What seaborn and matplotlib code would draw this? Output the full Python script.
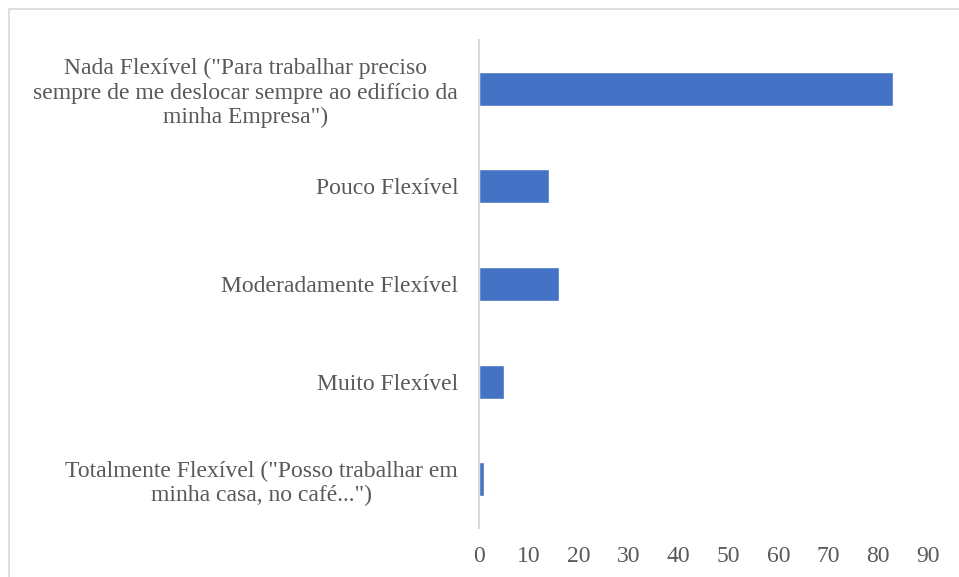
import matplotlib
matplotlib.use("Agg")
import matplotlib.pyplot as plt
import seaborn as sns
import pandas as pd
from matplotlib.patches import Rectangle

CATEGORIES = [
    'Nada Flexível ("Para trabalhar preciso\nsempre de me deslocar sempre ao edifício da\nminha Empresa")',
    'Pouco Flexível',
    'Moderadamente Flexível',
    'Muito Flexível',
    'Totalmente Flexível ("Posso trabalhar em\nminha casa, no café...")',
]
VALUES = [83, 14, 16, 5, 1]
XTICKS = [0, 10, 20, 30, 40, 50, 60, 70, 80, 90]

BAR_COLOR = "#4472C4"
TEXT_COLOR = "#595959"
LINE_COLOR = "#D9D9D9"

sns.set_theme(style="white")
plt.rcParams['font.family'] = ['Liberation Serif', 'DejaVu Serif']

df = pd.DataFrame({"cat": CATEGORIES, "val": VALUES})

fig = plt.figure(figsize=(9.59, 5.77), dpi=100)
ax = fig.add_axes([479 / 959, 1 - 528 / 577, (928 - 479) / 959, (528 - 40) / 577])

sns.barplot(data=df, x="val", y="cat", orient="h", color=BAR_COLOR,
            width=0.35, saturation=1, ax=ax)

ax.set_xlim(0, 90)
ax.set_xticks(XTICKS)
ax.set_xlabel("")
ax.set_ylabel("")
ax.tick_params(axis="both", length=0, labelsize=17, labelcolor=TEXT_COLOR)
ax.tick_params(axis="y", pad=15)
ax.tick_params(axis="x", pad=13)
for lbl in ax.get_yticklabels():
    lbl.set_multialignment("center")
    lbl.set_linespacing(1.22)

for side in ["top", "right", "bottom"]:
    ax.spines[side].set_visible(False)
ax.spines["left"].set_color(LINE_COLOR)
ax.spines["left"].set_linewidth(1.5)

# chart border (only left/top visible in the crop)
fig.patches.append(Rectangle((9 / 959, -0.1), 1.2, 1.1 - 9 / 577,
                             transform=fig.transFigure, fill=False,
                             edgecolor=LINE_COLOR, linewidth=1.2))

fig.savefig("out.png", dpi=100)
